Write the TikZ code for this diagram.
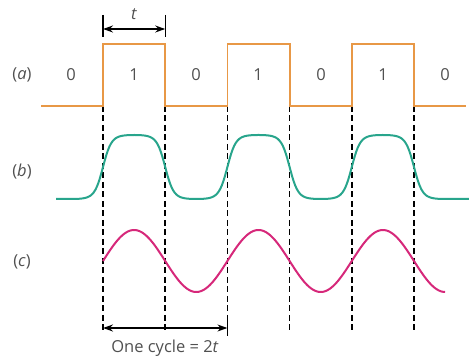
\documentclass[tikz,border=0pt]{standalone}
\usepackage{fontspec}
\setsansfont{Open Sans}
\renewcommand{\familydefault}{\sfdefault}
\usetikzlibrary{arrows.meta}
\definecolor{sqorange}{RGB}{232,152,70}
\definecolor{waveteal}{RGB}{40,165,140}
\definecolor{sinepink}{RGB}{214,40,122}
\definecolor{lblgray}{RGB}{80,80,80}
\tikzset{
  lbl/.style={text=lblgray,font=\fontsize{16.5}{19}\selectfont,inner sep=0pt},
  edgeline/.style={line width=1.5pt,dash pattern=on 6pt off 3.5pt},
  dimline/.style={line width=1.4pt,{Stealth[length=10pt,width=7pt]}-{Stealth[length=10pt,width=7pt]}}
}

\begin{document}
\begin{tikzpicture}[x=1pt,y=-1pt,>=Stealth]
\useasboundingbox (0,0) rectangle (469,358);
% 跳变位置
\foreach \k in {0,...,5} {
  \coordinate (top\k) at ({103+62.2*\k},106);
  \coordinate (bot\k) at ({103+62.2*\k},333);
}
% 纵向虚线
\foreach \k in {0,...,5}
  \draw[edgeline] (top\k) -- (bot\k);
% (a) 方波
\draw[sqorange,line width=1.8pt] (41,106) -| (103,44) -| (165.2,106) -| (227.4,44)
  -| (289.6,106) -| (351.8,44) -| (414,106) -- (466,106);
% (b) 圆角波形
\draw[waveteal,line width=2pt] (56,199) -- (71.9,199)
  -- plot[domain=-0.5:5.5,samples=240] ({103+62.2*\x},{167-32*tanh(2.3*sin(180*\x))/tanh(2.3)})
  -- (469,199);
% (c) 正弦波
\draw[sinepink,line width=2pt]
  plot[domain=0:5.5,samples=200] ({103+62.2*\x},{261-31*sin(180*\x)});
% 标签
\node[lbl] (lbla) at (22,75) {(\textit{a})};
\node[lbl] (lblb) at (22,172) {(\textit{b})};
\node[lbl] (lblc) at (22,262) {(\textit{c})};
\foreach \x/\v [count=\i] in {71/0,134/1,196/0,258/1,321/0,383/1,445/0}
  \node[lbl] (bit\i) at (\x,75) {\v};
% 宽度 t
\coordinate (ta) at (103,29);
\coordinate (tb) at (165.2,29);
\draw[line width=1.4pt] (103,15) -- (103,37);
\draw[line width=1.4pt] (165.2,15) -- (165.2,37);
\draw[dimline] (ta) -- (tb);
\node[lbl] (tlbl) at (134,14) {\textit{t}};
% 一个周期
\coordinate (ca) at (103,328);
\coordinate (cb) at (227.4,328);
\draw[line width=1.4pt] (227.4,321) -- (227.4,336);
\draw[dimline] (ca) -- (cb);
\node[lbl] (cyclbl) at (165,348) {One cycle = 2\textit{t}};
\end{tikzpicture}
\end{document}
